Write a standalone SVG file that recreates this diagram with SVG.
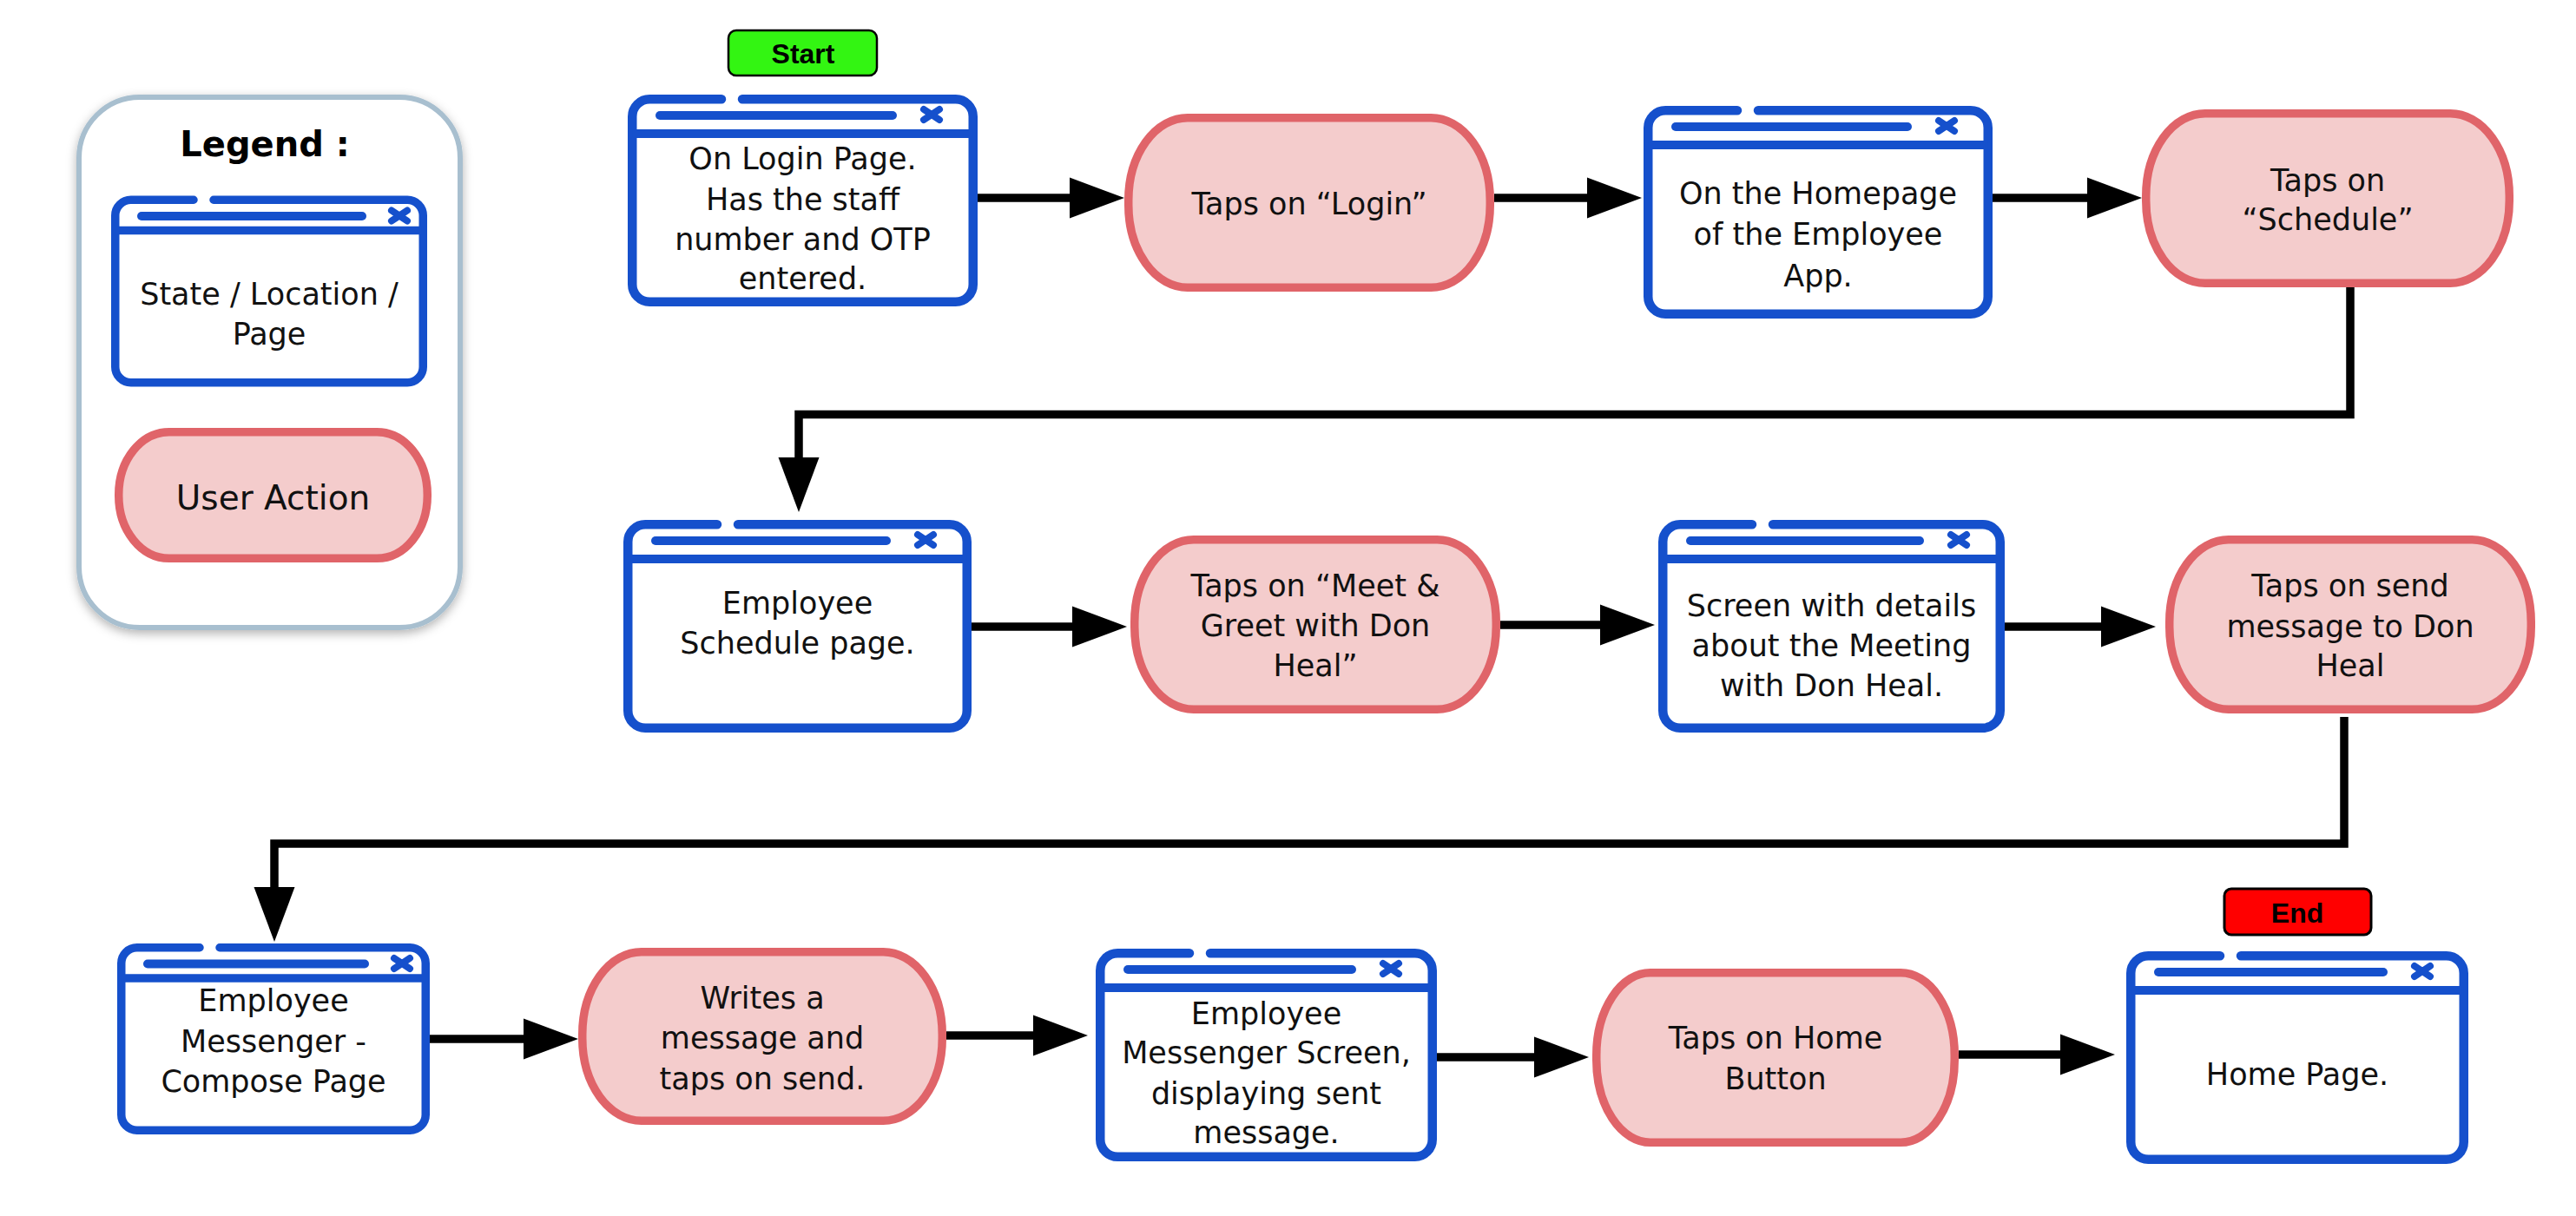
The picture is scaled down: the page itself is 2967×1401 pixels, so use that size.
<svg xmlns="http://www.w3.org/2000/svg" width="2967" height="1401" viewBox="0 0 2967 1401">
<defs>
<style>
.win{fill:#fff;stroke:#1550cc;stroke-width:10.5;stroke-linecap:round;stroke-linejoin:round}
.winc{fill:#fff;stroke:#1550cc;stroke-width:9.5;stroke-linecap:round;stroke-linejoin:round}
.bar{fill:none;stroke:#1550cc;stroke-width:10;stroke-linecap:round}
.sep{fill:none;stroke:#1550cc;stroke-width:10}
.sepc{fill:none;stroke:#1550cc;stroke-width:9.5}
.xic{fill:none;stroke:#1550cc;stroke-width:8;stroke-linecap:round}
.pill{fill:#f4cccc;stroke:#e06469;stroke-width:9.5}
.t{font-family:"DejaVu Sans",sans-serif;font-size:35px;fill:#111;text-anchor:middle}
.tb{font-family:"Liberation Sans",Arial,sans-serif;font-weight:bold;font-size:32px;fill:#000;text-anchor:middle}
.conn{fill:none;stroke:#000;stroke-width:9.5;stroke-linejoin:miter}
</style>
<marker id="arrow" markerUnits="userSpaceOnUse" markerWidth="64" markerHeight="48" refX="0" refY="23.5" orient="auto" overflow="visible">
<path d="M0,0 L63,23.5 L0,47 Z" fill="#000"/>
</marker>
<filter id="shadow" x="-20%" y="-20%" width="140%" height="140%">
<feDropShadow dx="0" dy="4" stdDeviation="6" flood-color="#000" flood-opacity="0.3"/>
</filter>
<path id="xmark" d="M-9,-6 L9,6 M-9,6 L9,-6"/>
</defs>

<g id="legend">
<rect x="91" y="112" width="439" height="611" rx="70" ry="70" fill="#fff" stroke="#a8bfcf" stroke-width="6" filter="url(#shadow)"/>
<text x="305" y="180" style="font-family:'DejaVu Sans',sans-serif;font-weight:bold;font-size:40px;text-anchor:middle;fill:#000">Legend :</text>
<g id="legend-state" transform="translate(128,225.5)">
<path class="winc" d="M118,4.75 H341.25 A18,18 0 0 1 359.25,22.75 V197.25 A18,18 0 0 1 341.25,215.25 H22.75 A18,18 0 0 1 4.75,197.25 V22.75 A18,18 0 0 1 22.75,4.75 H95"/>
<path class="sepc" d="M4.75,40 H359.25"/>
<path class="bar" d="M35,23.5 H289"/>
<use href="#xmark" class="xic" transform="translate(332,23)"/>
<text class="t" x="182" y="125.5">State / Location /</text>
<text class="t" x="182" y="171.5">Page</text>
</g>
<g id="legend-action" transform="translate(132,493)">
<rect class="pill" x="4.75" y="4.75" width="355.5" height="145.5" rx="58" ry="72"/>
<text class="t" x="182.5" y="94" style="font-size:39px">User Action</text>
</g>
</g>

<g id="start">
<rect x="839" y="35" width="171" height="52" rx="9" fill="#33f512" stroke="#000" stroke-width="2.5"/>
<text class="tb" x="925" y="73">Start</text>
</g>

<g id="end">
<rect x="2562" y="1024" width="169" height="53" rx="8" fill="#ff0000" stroke="#000" stroke-width="3"/>
<text class="tb" x="2646" y="1063">End</text>
</g>

<g id="n1-login" transform="translate(723,109)">
<path class="win" d="M132,5.25 H377.75 A20,20 0 0 1 397.75,25.25 V218.75 A20,20 0 0 1 377.75,238.75 H25.25 A20,20 0 0 1 5.25,218.75 V25.25 A20,20 0 0 1 25.25,5.25 H108"/>
<path class="sep" d="M5.25,45 H397.75"/>
<path class="bar" d="M37,24 H305"/>
<use href="#xmark" class="xic" transform="translate(350,23)"/>
<text class="t" x="201.5" y="86">On Login Page.</text>
<text class="t" x="201.5" y="133">Has the staff</text>
<text class="t" x="201.5" y="179">number and OTP</text>
<text class="t" x="201.5" y="224">entered.</text>
</g>

<g id="n2-taps-login" transform="translate(1295,131)">
<rect class="pill" x="4.75" y="4.75" width="416.5" height="195.5" rx="68" ry="95"/>
<text class="t" x="213" y="116">Taps on “Login”</text>
</g>

<g id="n3-homepage" transform="translate(1893,122)">
<path class="win" d="M132,5.25 H376.75 A20,20 0 0 1 396.75,25.25 V219.75 A20,20 0 0 1 376.75,239.75 H25.25 A20,20 0 0 1 5.25,219.75 V25.25 A20,20 0 0 1 25.25,5.25 H108"/>
<path class="sep" d="M5.25,45 H396.75"/>
<path class="bar" d="M37,24 H304"/>
<use href="#xmark" class="xic" transform="translate(349,23)"/>
<text class="t" x="201" y="113">On the Homepage</text>
<text class="t" x="201" y="160">of the Employee</text>
<text class="t" x="201" y="208">App.</text>
</g>

<g id="n4-taps-schedule" transform="translate(2467,126)">
<rect class="pill" x="4.75" y="4.75" width="418.5" height="195.5" rx="68" ry="95"/>
<text class="t" x="214" y="94">Taps on</text>
<text class="t" x="214" y="139">“Schedule”</text>
</g>

<g id="n5-schedule-page" transform="translate(718,599)">
<path class="win" d="M132,5.25 H375.75 A20,20 0 0 1 395.75,25.25 V219.75 A20,20 0 0 1 375.75,239.75 H25.25 A20,20 0 0 1 5.25,219.75 V25.25 A20,20 0 0 1 25.25,5.25 H108"/>
<path class="sep" d="M5.25,45 H395.75"/>
<path class="bar" d="M37,24 H303"/>
<use href="#xmark" class="xic" transform="translate(348,23)"/>
<text class="t" x="200.5" y="108">Employee</text>
<text class="t" x="200.5" y="154">Schedule page.</text>
</g>

<g id="n6-taps-meet" transform="translate(1302,617)">
<rect class="pill" x="4.75" y="4.75" width="416.5" height="195.5" rx="68" ry="95"/>
<text class="t" x="213" y="70">Taps on “Meet &amp;</text>
<text class="t" x="213" y="116">Greet with Don</text>
<text class="t" x="213" y="162">Heal”</text>
</g>

<g id="n7-meeting-details" transform="translate(1910,599)">
<path class="win" d="M132,5.25 H373.75 A20,20 0 0 1 393.75,25.25 V219.75 A20,20 0 0 1 373.75,239.75 H25.25 A20,20 0 0 1 5.25,219.75 V25.25 A20,20 0 0 1 25.25,5.25 H108"/>
<path class="sep" d="M5.25,45 H393.75"/>
<path class="bar" d="M37,24 H301"/>
<use href="#xmark" class="xic" transform="translate(346,23)"/>
<text class="t" x="199.5" y="111">Screen with details</text>
<text class="t" x="199.5" y="157">about the Meeting</text>
<text class="t" x="199.5" y="203">with Don Heal.</text>
</g>

<g id="n8-taps-send-message" transform="translate(2494,617)">
<rect class="pill" x="4.75" y="4.75" width="416.5" height="195.5" rx="68" ry="95"/>
<text class="t" x="213" y="70">Taps on send</text>
<text class="t" x="213" y="117">message to Don</text>
<text class="t" x="213" y="162">Heal</text>
</g>

<g id="n9-compose" transform="translate(135,1087)">
<path class="winc" d="M118,4.75 H337.25 A18,18 0 0 1 355.25,22.75 V197.25 A18,18 0 0 1 337.25,215.25 H22.75 A18,18 0 0 1 4.75,197.25 V22.75 A18,18 0 0 1 22.75,4.75 H95"/>
<path class="sepc" d="M4.75,40 H355.25"/>
<path class="bar" d="M35,23.5 H285"/>
<use href="#xmark" class="xic" transform="translate(328,23)"/>
<text class="t" x="180" y="78">Employee</text>
<text class="t" x="180" y="125">Messenger -</text>
<text class="t" x="180" y="171">Compose Page</text>
</g>

<g id="n10-writes" transform="translate(666,1092)">
<rect class="pill" x="4.75" y="4.75" width="414.5" height="194.5" rx="68" ry="95"/>
<text class="t" x="212" y="70">Writes a</text>
<text class="t" x="212" y="116">message and</text>
<text class="t" x="212" y="163">taps on send.</text>
</g>

<g id="n11-messenger-screen" transform="translate(1262,1093)">
<path class="win" d="M132,5.25 H367.75 A20,20 0 0 1 387.75,25.25 V219.75 A20,20 0 0 1 367.75,239.75 H25.25 A20,20 0 0 1 5.25,219.75 V25.25 A20,20 0 0 1 25.25,5.25 H108"/>
<path class="sep" d="M5.25,45 H387.75"/>
<path class="bar" d="M37,24 H295"/>
<use href="#xmark" class="xic" transform="translate(340,23)"/>
<text class="t" x="196.5" y="87">Employee</text>
<text class="t" x="196.5" y="132">Messenger Screen,</text>
<text class="t" x="196.5" y="179">displaying sent</text>
<text class="t" x="196.5" y="224">message.</text>
</g>

<g id="n12-taps-home" transform="translate(1834,1116)">
<rect class="pill" x="4.75" y="4.75" width="412.5" height="195.5" rx="62" ry="95"/>
<text class="t" x="211" y="92">Taps on Home</text>
<text class="t" x="211" y="139">Button</text>
</g>

<g id="n13-home-page" transform="translate(2449,1096)">
<path class="win" d="M132,5.25 H368.75 A20,20 0 0 1 388.75,25.25 V219.75 A20,20 0 0 1 368.75,239.75 H25.25 A20,20 0 0 1 5.25,219.75 V25.25 A20,20 0 0 1 25.25,5.25 H108"/>
<path class="sep" d="M5.25,45 H388.75"/>
<path class="bar" d="M37,24 H296"/>
<use href="#xmark" class="xic" transform="translate(341,23)"/>
<text class="t" x="197" y="154">Home Page.</text>
</g>

<g id="connectors">
<path class="conn" d="M1126,228 H1232" marker-end="url(#arrow)"/>
<path class="conn" d="M1721,228 H1828" marker-end="url(#arrow)"/>
<path class="conn" d="M2295,228 H2404" marker-end="url(#arrow)"/>
<path class="conn" d="M2707,331 V477.5 H920 V527" marker-end="url(#arrow)"/>
<path class="conn" d="M1119,722 H1235" marker-end="url(#arrow)"/>
<path class="conn" d="M1728,720 H1843" marker-end="url(#arrow)"/>
<path class="conn" d="M2309,722 H2420" marker-end="url(#arrow)"/>
<path class="conn" d="M2700,826 V972 H316 V1022" marker-end="url(#arrow)"/>
<path class="conn" d="M495,1197 H603" marker-end="url(#arrow)"/>
<path class="conn" d="M1090,1193 H1190" marker-end="url(#arrow)"/>
<path class="conn" d="M1655,1218 H1767" marker-end="url(#arrow)"/>
<path class="conn" d="M2256,1215 H2373" marker-end="url(#arrow)"/>
</g>
</svg>
